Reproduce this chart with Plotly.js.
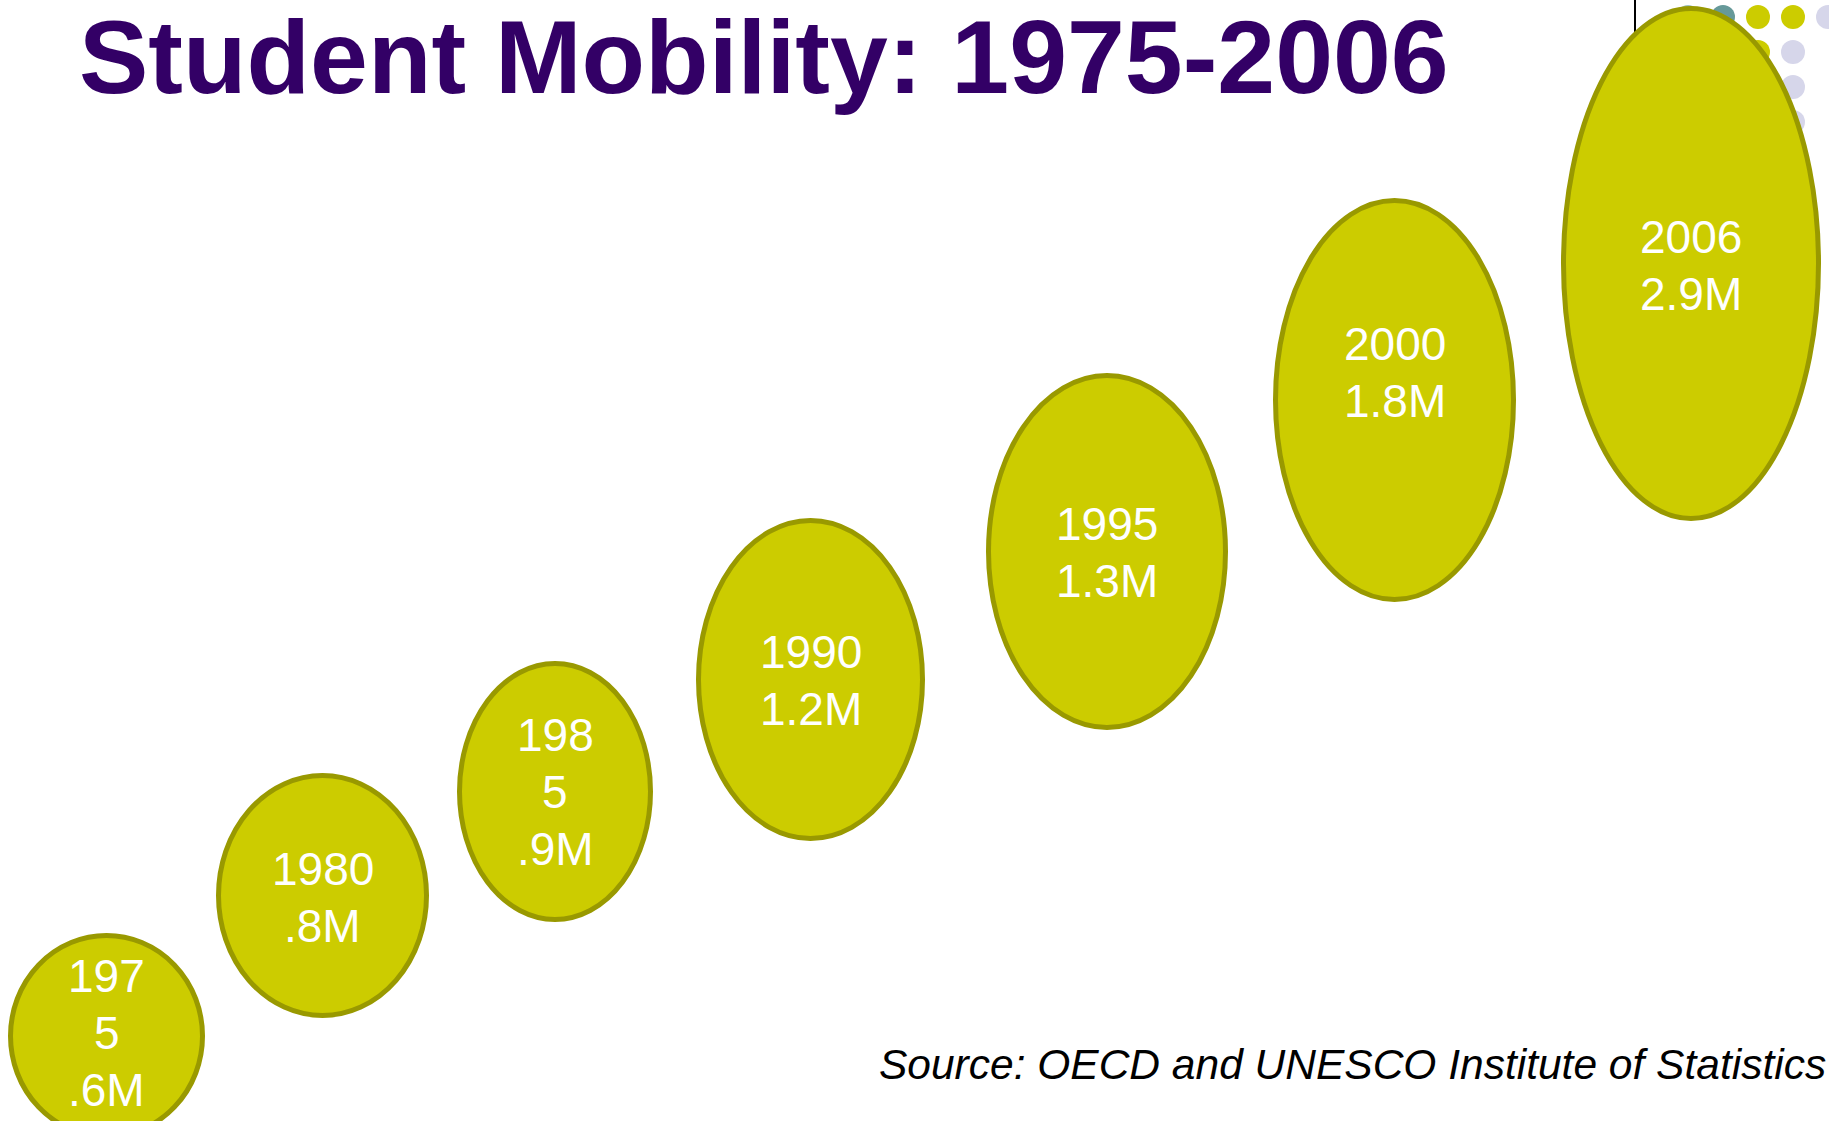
<!DOCTYPE html>
<html>
<head>
<meta charset="utf-8">
<script src="https://cdn.plot.ly/plotly-3.0.1.min.js"></script>
<style>
  html, body { margin: 0; padding: 0; background: #ffffff; }
  #chart { width: 1829px; height: 1121px; }
</style>
</head>
<body>
<div id="chart"></div>
<script>
// ---- data ----
const years = ['1975', '1980', '1985', '1990', '1995', '2000', '2006'];
const studentLabels = ['.6M', '.8M', '.9M', '1.2M', '1.3M', '1.8M', '2.9M'];
const studentsMillions = [0.6, 0.8, 0.9, 1.2, 1.3, 1.8, 2.9];
// the slide's text boxes wrap some years after this many characters (0 = no wrap)
const yearWrapAt = [3, 0, 3, 0, 0, 0, 0];

// ---- layout geometry of the bubbles (pixel space) ----
const bubbleCx = [106.5, 322.5, 555, 810.5, 1107, 1394.5, 1691];
const bubbleCy = [1036, 895.5, 791.5, 679.5, 551.5, 400, 263.5];
const bubbleRx = [98.5, 106.5, 98, 114.5, 121, 121.5, 130];
const bubbleRy = [103, 122.5, 130.5, 161.5, 178.5, 202, 257.5];
const textCy   = [1033, 897, 792, 680, 552, 372, 265];

// decorative dot grid in the top-right corner of the template
const dotX = [1688, 1723, 1758, 1793, 1828, 1758, 1793, 1793, 1793];
const dotY = [17, 17, 17, 17, 17, 52, 52, 87, 122];
const dotC = ['#9fc0c0', '#669999', '#cccc00', '#cccc00', '#d6d6ea', '#cccc00', '#d6d6ea', '#d6d6ea', '#d6d6ea'];

const FILL = '#cccc00';
const EDGE = '#999900';
const SW = 5;
const LINE_GAP = 57;
const FONT = '"Liberation Sans", Arial, Helvetica, sans-serif';

const shapes = [];
// template line
shapes.push({type: 'line', xref: 'x', yref: 'y', x0: 1635, x1: 1635, y0: 0, y1: 60,
             line: {color: '#000000', width: 2}});
dotX.forEach((x, i) => {
  shapes.push({type: 'circle', xref: 'x', yref: 'y',
               x0: x - 12, x1: x + 12, y0: dotY[i] - 12, y1: dotY[i] + 12,
               fillcolor: dotC[i], line: {width: 0}});
});
years.forEach((y, i) => {
  const inset = SW / 2;
  shapes.push({type: 'circle', xref: 'x', yref: 'y',
               x0: bubbleCx[i] - bubbleRx[i] + inset, x1: bubbleCx[i] + bubbleRx[i] - inset,
               y0: bubbleCy[i] - bubbleRy[i] + inset, y1: bubbleCy[i] + bubbleRy[i] - inset,
               fillcolor: FILL, line: {color: EDGE, width: SW}});
});

const annotations = [];
years.forEach((yr, i) => {
  const lines = [];
  if (yearWrapAt[i] > 0) {
    lines.push(yr.slice(0, yearWrapAt[i]));
    lines.push(yr.slice(yearWrapAt[i]));
  } else {
    lines.push(yr);
  }
  lines.push(studentLabels[i]);
  const n = lines.length;
  lines.forEach((t, k) => {
    annotations.push({
      xref: 'x', yref: 'y', x: bubbleCx[i], y: textCy[i] + (k - (n - 1) / 2) * LINE_GAP,
      text: t, showarrow: false, xanchor: 'center', yanchor: 'middle',
      font: {family: FONT, size: 46, color: '#ffffff'}
    });
  });
});

annotations.push({
  xref: 'x', yref: 'y', x: 877, y: 1064, xanchor: 'left', yanchor: 'middle',
  text: '<i>Source: OECD and UNESCO Institute of Statistics</i>', showarrow: false,
  font: {family: FONT, size: 42.5, color: '#000000'}
});

const traces = [{
  type: 'scatter', mode: 'markers',
  x: bubbleCx, y: bubbleCy,
  marker: {size: 1, opacity: 0},
  text: years.map((y, i) => y + ': ' + studentsMillions[i] + 'M students'),
  hoverinfo: 'text', showlegend: false
}];

const layout = {
  width: 1829, height: 1121,
  margin: {l: 0, r: 0, t: 0, b: 0, pad: 0},
  paper_bgcolor: '#ffffff', plot_bgcolor: '#ffffff',
  showlegend: false,
  title: {
    text: '<b>Student Mobility: 1975-2006</b>',
    x: 79 / 1829, xanchor: 'left', xref: 'container',
    y: 1 - 20 / 1121, yanchor: 'top', yref: 'container',
    font: {family: FONT, size: 104, color: '#330066'}
  },
  xaxis: {range: [0, 1829], visible: false, fixedrange: true},
  yaxis: {range: [1121, 0], visible: false, fixedrange: true},
  shapes: shapes,
  annotations: annotations
};

Plotly.newPlot('chart', traces, layout, {displayModeBar: false, staticPlot: true});
</script>
</body>
</html>
